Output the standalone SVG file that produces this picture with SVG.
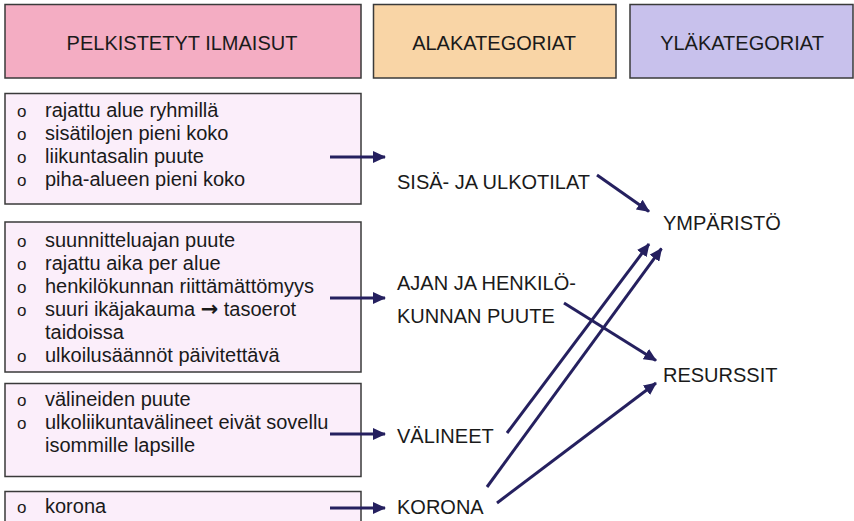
<svg xmlns="http://www.w3.org/2000/svg" width="854" height="521" viewBox="0 0 854 521">
<style>
text{font-family:"Liberation Sans",Arial,sans-serif;font-size:20px;fill:#1a1a1a}
.hdr{text-anchor:middle}
.bul{font-size:17px}
.arr{font-family:"DejaVu Sans",sans-serif;font-weight:bold;font-size:21px}
.box{stroke:#3a3a3a;stroke-width:1.5}
.lst{fill:#fbeefa}
.con{stroke:#25205f;stroke-width:3;fill:none;marker-end:url(#ah)}
</style>
<defs>
<marker id="ah" markerUnits="userSpaceOnUse" markerWidth="14" markerHeight="12" refX="12" refY="6" orient="auto">
<path d="M0,0 L13,6 L0,12 z" fill="#25205f"/>
</marker>
</defs>
<rect width="854" height="521" fill="#fff"/>
<g id="h1"><rect class="box" x="5" y="4.5" width="356" height="73.5" fill="#f4adc3"/><text class="hdr" x="182" y="49.5">PELKISTETYT ILMAISUT</text></g>
<g id="h2"><rect class="box" x="373.5" y="4.5" width="242.5" height="73.5" fill="#f9d5a6"/><text class="hdr" x="494" y="49.5">ALAKATEGORIAT</text></g>
<g id="h3"><rect class="box" x="630" y="4.5" width="223" height="73.5" fill="#c8c1ec"/><text class="hdr" x="742" y="49.5">YLÄKATEGORIAT</text></g>

<g id="l1"><rect class="box lst" x="5" y="93.5" width="356" height="110.5"/>
<text class="bul" x="17" y="117">o</text><text x="45" y="117">rajattu alue ryhmillä</text>
<text class="bul" x="17" y="140">o</text><text x="45" y="140">sisätilojen pieni koko</text>
<text class="bul" x="17" y="163">o</text><text x="45" y="163">liikuntasalin puute</text>
<text class="bul" x="17" y="186">o</text><text x="45" y="186">piha-alueen pieni koko</text>
</g>
<g id="l2"><rect class="box lst" x="5" y="222" width="356" height="150"/>
<text class="bul" x="17" y="247">o</text><text x="45" y="247">suunnitteluajan puute</text>
<text class="bul" x="17" y="270">o</text><text x="45" y="270">rajattu aika per alue</text>
<text class="bul" x="17" y="293">o</text><text x="45" y="293">henkilökunnan riittämättömyys</text>
<text class="bul" x="17" y="316">o</text><text x="45" y="316">suuri ikäjakauma <tspan class="arr">→</tspan> tasoerot</text>
<text x="45" y="339">taidoissa</text>
<text class="bul" x="17" y="362">o</text><text x="45" y="362">ulkoilusäännöt päivitettävä</text>
</g>
<g id="l3"><rect class="box lst" x="5" y="383.5" width="356" height="93"/>
<text class="bul" x="17" y="406">o</text><text x="45" y="406">välineiden puute</text>
<text class="bul" x="17" y="429">o</text><text x="45" y="429">ulkoliikuntavälineet eivät sovellu</text>
<text x="45" y="452">isommille lapsille</text>
</g>
<g id="l4"><rect class="box lst" x="5" y="491.5" width="356" height="40"/>
<text class="bul" x="17" y="513">o</text><text x="45" y="513">korona</text>
</g>

<g id="s1"><text x="397" y="189">SISÄ- JA ULKOTILAT</text></g>
<g id="s2"><text x="397" y="290">AJAN JA HENKILÖ-</text><text x="397" y="323">KUNNAN PUUTE</text></g>
<g id="s3"><text x="397" y="443">VÄLINEET</text></g>
<g id="s4"><text x="397" y="514">KORONA</text></g>
<g id="t1"><text x="663" y="230">YMPÄRISTÖ</text></g>
<g id="t2"><text x="663" y="382">RESURSSIT</text></g>

<g id="connectors">
<line class="con" x1="330" y1="157" x2="385" y2="157"/>
<line class="con" x1="330" y1="298" x2="385" y2="298"/>
<line class="con" x1="330" y1="434" x2="385" y2="434"/>
<line class="con" x1="330" y1="508" x2="385" y2="508"/>
<line class="con" x1="597" y1="175" x2="649" y2="211.5"/>
<line class="con" x1="564" y1="303" x2="656" y2="360.5"/>
<line class="con" x1="507" y1="433" x2="649" y2="244"/>
<line class="con" x1="487" y1="487" x2="661.5" y2="248.5"/>
<line class="con" x1="497" y1="503" x2="656" y2="383"/>
</g>
</svg>
